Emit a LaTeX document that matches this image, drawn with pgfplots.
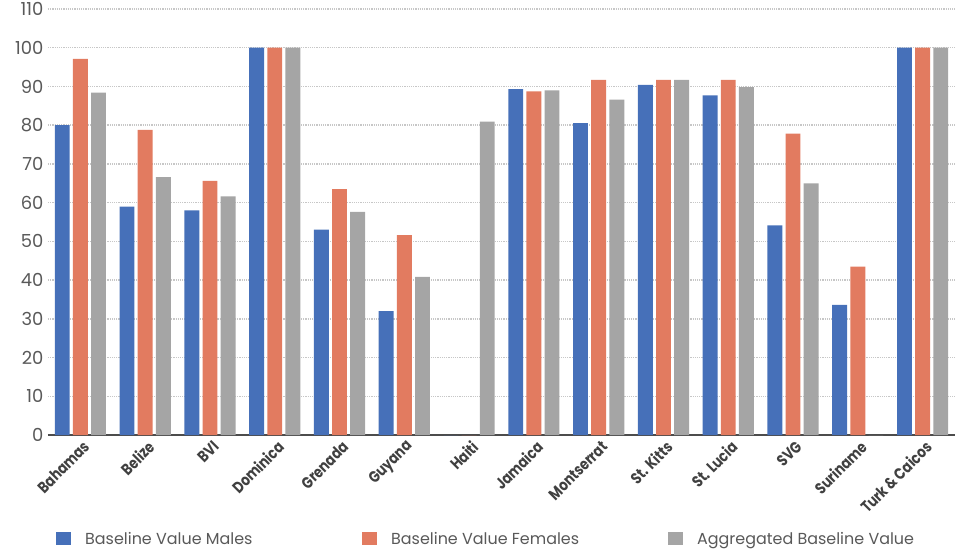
\documentclass[border=0pt]{standalone}
\usepackage{fontspec}
\setmainfont{Poppins}
\usepackage{pgfplots}
\pgfplotsset{compat=1.18}
\definecolor{cM}{RGB}{70,112,185}
\definecolor{cF}{RGB}{226,123,96}
\definecolor{cA}{RGB}{165,165,165}
\definecolor{tickc}{RGB}{89,89,89}
\definecolor{labc}{RGB}{64,64,64}
\newcommand{\cl}[1]{\scalebox{0.82}[1]{#1}}
\begin{document}
\begin{tikzpicture}
\useasboundingbox (-48bp,-123bp) rectangle (912bp,435bp);
\begin{axis}[
  scale only axis, width=907bp, height=426bp,
  ymin=0, ymax=110, ytick={0,10,...,110},
  xmin=-0.5, xmax=13.5, xtick={0,...,13},
  xticklabels={\cl{Bahamas},\cl{Belize},\cl{BVI},\cl{Dominica},\cl{Grenada},\cl{Guyana},\cl{Haiti},\cl{Jamaica},\cl{Montserrat},\cl{St. Kitts},\cl{St. Lucia},\cl{SVG},\cl{Suriname},\cl{Turk \& Caicos}},
  axis line style={draw=none},
  major tick length=0pt,
  ymajorgrids,
  grid style={color=black!22, line width=1.5bp, dash pattern=on 1.2bp off 1bp},
  /pgf/number format/assume math mode=true,
  yticklabel style={font=\fontsize{18}{20}\selectfont, text=tickc, xshift=-1bp},
  xticklabel style={font=\bfseries\fontsize{16}{18}\selectfont, text=labc, xshift=6bp, yshift=-9bp, rotate=45, anchor=east, inner sep=0pt},
  ybar, bar width=0.23,
  legend columns=3,
  legend style={draw=none, at={(0.0088,-0.244)}, anchor=west, font=\fontsize{16}{18}\selectfont, text=tickc, inner sep=0pt, nodes={inner sep=0pt}},
  legend image code/.code={\fill[#1] (0bp,-6.5bp) rectangle (15bp,6.5bp);},
]
\draw[line width=2.5bp, color=black!70] (rel axis cs:0,0) -- (rel axis cs:1,0);
\addplot[fill=cM, draw=none, bar shift=-0.28] coordinates {(0,80) (1,59) (2,58) (3,100) (4,53) (5,32) (6,0) (7,89.3) (8,80.5) (9,90.4) (10,87.7) (11,54.1) (12,33.6) (13,100)};
\addlegendentry{\makebox[291bp][l]{\hspace{14bp}Baseline Value Males}}
\addplot[fill=cF, draw=none, bar shift=0] coordinates {(0,97.1) (1,78.8) (2,65.6) (3,100) (4,63.5) (5,51.6) (6,0) (7,88.7) (8,91.7) (9,91.7) (10,91.7) (11,77.8) (12,43.5) (13,100)};
\addlegendentry{\makebox[291bp][l]{\hspace{14bp}Baseline Value Females}}
\addplot[fill=cA, draw=none, bar shift=0.28] coordinates {(0,88.4) (1,66.6) (2,61.6) (3,100) (4,57.6) (5,40.8) (6,80.9) (7,89) (8,86.6) (9,91.7) (10,89.8) (11,65) (12,0) (13,100)};
\addlegendentry{\makebox[240bp][l]{\hspace{14bp}Aggregated Baseline Value}}
\end{axis}
\end{tikzpicture}
\end{document}
